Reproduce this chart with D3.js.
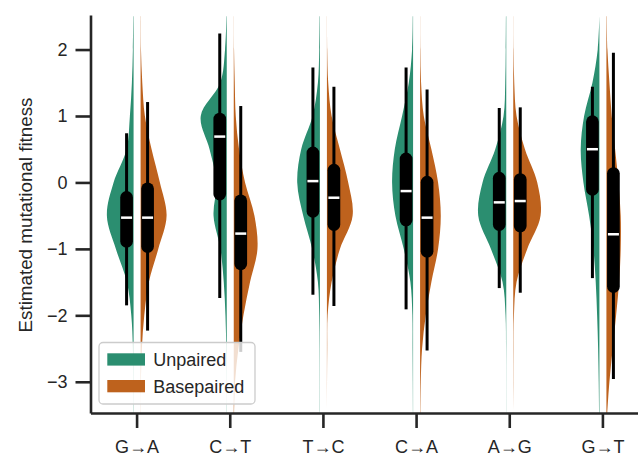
<!DOCTYPE html>
<html>
<head>
<meta charset="utf-8">
<script src="https://cdn.jsdelivr.net/npm/d3@7"></script>
<style>
  body { margin: 0; background: #fff; }
  svg text { font-family: "Liberation Sans", Arial, sans-serif; }
</style>
</head>
<body>
<div id="chart"></div>
<script>
const WIDTH  = 638;
const HEIGHT = 456;

const PLOT = {
  left:   90.5,
  right:  649.5,
  top:    15,
  bottom: 413
};

const GAP     = 3.5;   // white gap between the two halves
const BOX_OFF = 10.5;  // box offset from category centre
const BOX_W   = 12.7;
const WHISKER = 3;
const FONT    = 18;

const COLORS = {
  unpaired:   '#2b8e70',
  basepaired: '#be621d',
  axis:       '#262626',
  text:       '#262626'
};

// Data
const CATEGORIES = ['G→A', 'C→T', 'T→C', 'C→A', 'A→G', 'G→T'];
const SERIES     = ['Unpaired', 'Basepaired'];
const Y_TICKS    = [-3, -2, -1, 0, 1, 2];

// violin half-widths at these fitness levels
const LEVELS = [2.5, 2, 1.5, 1, 0.5, 0, -0.5, -1, -1.5, -2, -2.5, -3, -3.5];

const UNPAIRED_DENSITY = [
  [0.3, 0.7, 1.7, 3.7, 7,    20,   26.7, 17.7, 6.7,  2.3, 0.7, 0.3, 0.1],
  [0.3, 1.7, 6.5, 26,  17.2, 10.3, 13.2, 6.3,  3,    1.3, 0.5, 0.2, 0.1],
  [0.3, 0.7, 2,   7.3, 18.7, 22.7, 16.7, 7.7,  2,    0.7, 0.3, 0.2, 0.1],
  [0.3, 1,   4.3, 11,  18.3, 21,   17.7, 9.3,  2.7,  0.7, 0.5, 0.3, 0.1],
  [0.3, 0.5, 1,   2.7, 11,   23.7, 28,   15.3, 3.7,  0.7, 0.2, 0.1, 0.05],
  [0,   1.7, 7,   15.3, 18.7, 16,  10.3, 6,    3.7,  2.3, 1.3, 0.7, 0.3]
];
const BASEPAIRED_DENSITY = [
  [0.2, 0.4, 1.7, 4.3, 11,   19.3, 26,   17.7, 8.3,  3.7, 1.3, 0.3, 0.1],
  [0.1, 0.3, 1,   2,   5.3,  11.3, 20.7, 23.7, 16.3, 9.7, 4.7, 1.3, 0.3],
  [0.1, 0.3, 1.3, 4.7, 13,   21.3, 25.7, 13,   4.7,  0.7, 0.3, 0.1, 0.05],
  [0.1, 0.3, 1,   3.7, 11.3, 18,   20.7, 18,   11.3, 5.7, 2,   0.7, 0.3],
  [0.1, 0.3, 1,   3.3, 11.7, 24,   27.3, 14,   3.3,  0.7, 0.3, 0.2, 0.05],
  [0.3, 1,   3,   5.3, 8.7,  12,   14.3, 14.3, 12.7, 9.7, 6.3, 3,   0.7]
];

// [lower whisker, box bottom, median, box top, upper whisker]
const UNPAIRED_BOX = [
  [-1.85, -0.98, -0.53, -0.13, 0.74],
  [-1.74, -0.27,  0.69,  1.05, 2.24],
  [-1.69, -0.53,  0.02,  0.54, 1.73],
  [-1.91, -0.66, -0.13,  0.45, 1.73],
  [-1.59, -0.73, -0.30,  0.16, 1.12],
  [-1.44, -0.20,  0.50,  1.01, 1.44]
];
const BASEPAIRED_BOX = [
  [-2.23, -1.06, -0.53,  0.00, 1.21],
  [-2.55, -1.32, -0.77, -0.18, 1.15],
  [-1.86, -0.73, -0.23,  0.28, 1.44],
  [-2.53, -1.13, -0.53,  0.10, 1.40],
  [-1.66, -0.75, -0.28,  0.14, 1.13],
  [-2.96, -1.66, -0.78,  0.23, 1.95]
];



var x = d3.scaleBand()
  .domain(CATEGORIES)
  .range([PLOT.left, PLOT.right]);
var y = d3.scaleLinear()
  .domain([-3.47, 2.52])
  .range([PLOT.bottom, PLOT.top]);
var w = d3.scaleLinear()
  .domain([0, 30])
  .range([0, 30]);
var color = d3.scaleOrdinal()
  .domain(SERIES)
  .range([COLORS.unpaired, COLORS.basepaired]);

function centre(c) {
  return x(c) + x.bandwidth() / 2;
}



var svg = d3.select('#chart').append('svg')
  .attr('width', WIDTH)
  .attr('height', HEIGHT)
  .style('display', 'block');

svg.append('clipPath')
    .attr('id', 'plot-clip')
  .append('rect')
    .attr('x', PLOT.left)
    .attr('y', PLOT.top)
    .attr('width', WIDTH - PLOT.left)
    .attr('height', PLOT.bottom - PLOT.top);

// build one record per half violin
var halves = [];
CATEGORIES.forEach((c, i) => {
  halves.push({cat: c, series: SERIES[0], side: -1, density: UNPAIRED_DENSITY[i], box: UNPAIRED_BOX[i]});
  halves.push({cat: c, series: SERIES[1], side: 1, density: BASEPAIRED_DENSITY[i], box: BASEPAIRED_BOX[i]});
});

// Violins
var violins = svg.append('g').attr('clip-path', 'url(#plot-clip)');
violins.selectAll('.violin')
    .data(halves)
  .enter().append('path')
    .attr('class', 'violin')
    .style('fill', d => color(d.series))
    .style('stroke', 'none')
    .attr('d', d => {
      let inner = centre(d.cat) + d.side * GAP;
      let area = d3.area()
        .curve(d3.curveCatmullRom)
        .y((v, k) => y(LEVELS[k]))
        .x0(inner)
        .x1(v => inner + d.side * w(v));
      return area(d.density);
    });

// Box plots
var boxes = svg.append('g');
boxes.selectAll('.box')
    .data(halves)
  .enter().append('g')
    .attr('class', 'box')
    .attr('transform', d => `translate(${centre(d.cat) + d.side * BOX_OFF},0)`)
    .each(function(d) {
      let g = d3.select(this);
      g.append('line')
        .style('stroke', '#000')
        .style('stroke-width', WHISKER)
        .attr('y1', y(d.box[0]))
        .attr('y2', y(d.box[4]));
      g.append('rect')
        .style('fill', '#000')
        .attr('x', -BOX_W / 2)
        .attr('width', BOX_W)
        .attr('y', y(d.box[3]))
        .attr('height', y(d.box[1]) - y(d.box[3]))
        .attr('rx', BOX_W / 2)
        .attr('ry', BOX_W / 2);
      g.append('line')
        .style('stroke', '#fff')
        .style('stroke-width', 2.5)
        .attr('x1', -5.5)
        .attr('x2', 5.5)
        .attr('y1', y(d.box[2]))
        .attr('y2', y(d.box[2]));
    });

// Axes
function styleAxis(g) {
  g.select('.domain')
    .style('stroke', COLORS.axis)
    .style('stroke-width', 2.6);
  g.selectAll('.tick line')
    .style('stroke', COLORS.axis)
    .style('stroke-width', 2.6);
  g.selectAll('.tick text')
    .style('fill', COLORS.text)
    .style('font-size', FONT + 'px')
    .style('font-family', '"Liberation Sans", Arial, sans-serif');
}

svg.append('g')
  .attr('transform', `translate(${PLOT.left},0)`)
  .call(d3.axisLeft(y)
    .tickValues(Y_TICKS)
    .tickFormat(d3.format('d'))
    .tickSize(15)
    .tickSizeOuter(0)
    .tickPadding(8))
  .call(styleAxis);

svg.append('g')
  .attr('transform', `translate(0,${PLOT.bottom})`)
  .call(d3.axisBottom(x)
    .tickSize(15)
    .tickSizeOuter(0)
    .tickPadding(12))
  .call(styleAxis);

svg.append('text')
  .attr('transform', `translate(31.5,${(PLOT.top + PLOT.bottom) / 2 + 1}) rotate(-90)`)
  .attr('text-anchor', 'middle')
  .style('fill', COLORS.text)
  .style('font-size', '18.8px')
  .text('Estimated mutational fitness');

// Legend
var legend = svg.append('g').attr('transform', 'translate(99,342.5)');
legend.append('rect')
  .attr('width', 156)
  .attr('height', 61.5)
  .attr('rx', 4)
  .style('fill', '#fff')
  .style('fill-opacity', 0.8)
  .style('stroke', '#cccccc')
  .style('stroke-width', 1.3);

legend.selectAll('.entry')
    .data(SERIES)
  .enter().append('g')
    .attr('class', 'entry')
    .attr('transform', (d, i) => `translate(8.3,${10.8 + i * 26.7})`)
    .each(function(d) {
      let g = d3.select(this);
      g.append('rect')
        .attr('width', 37.7)
        .attr('height', 12.3)
        .style('fill', color(d));
      g.append('text')
        .attr('x', 46)
        .attr('y', 12.5)
        .style('fill', COLORS.text)
        .style('font-size', FONT + 'px')
        .text(d);
    });
</script>
</body>
</html>
